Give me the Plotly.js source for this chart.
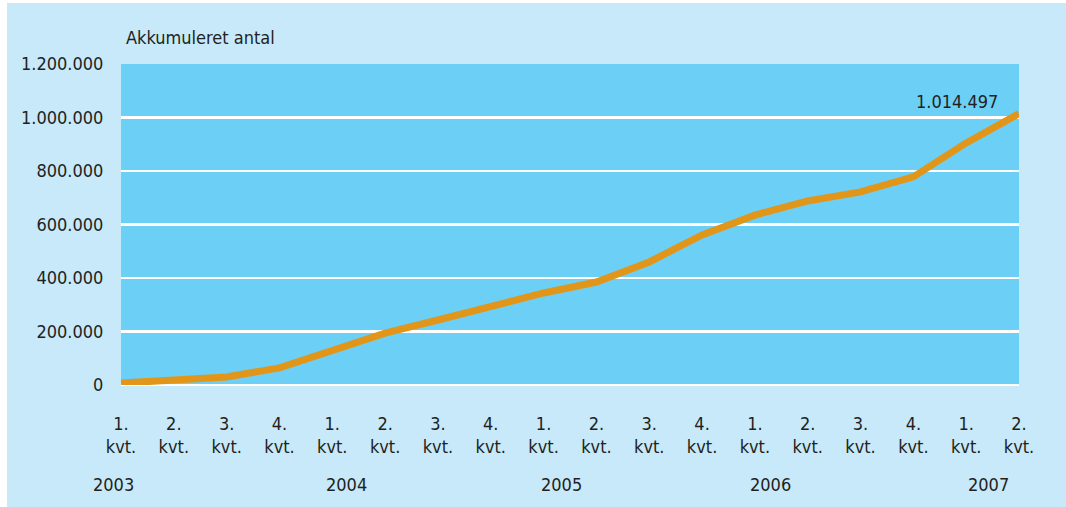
<!DOCTYPE html>
<html>
<head>
<meta charset="utf-8">
<script src="https://cdn.plot.ly/plotly-3.0.1.min.js"></script>
<style>
html,body{margin:0;padding:0;background:#ffffff;}
#chart{width:1066px;height:507px;}
</style>
</head>
<body>
<div id="chart"></div>
<script>
// Data
var quarterLabels = ["1.","2.","3.","4.","1.","2.","3.","4.","1.","2.","3.","4.","1.","2.","3.","4.","1.","2."];
var yearLabels = ["2003","2004","2005","2006","2007"];
var yearPositions = [0, 4.27, 8.33, 12.29, 16.42];
var accumulated = [7000, 19000, 30000, 64000, 131000, 194000, 243000, 292000, 344000, 385000, 460000, 561000, 635000, 688000, 722000, 778000, 905000, 1014497];
var lastLabel = "1.014.497";
var yTitle = "Akkumuleret antal";

var FONT = "'DejaVu Sans Condensed', 'Liberation Sans Narrow', 'Arial Narrow', sans-serif";
var TXT = "#231f20";

var xIdx = quarterLabels.map(function(_, i){ return i; });
var tickText = quarterLabels.map(function(q){ return q + "<br>kvt."; });

var trace = {
  x: xIdx,
  y: accumulated,
  type: "scatter",
  mode: "lines",
  line: {color: "#e1961a", width: 7},
  hoverinfo: "skip",
  showlegend: false
};

var annotations = [];
yearLabels.forEach(function(y, i){
  annotations.push({
    text: y, xref: "x", x: yearPositions[i], yref: "paper", y: -0.31,
    xanchor: "center", yanchor: "middle", showarrow: false,
    xshift: i === 0 ? -8 : 0,
    font: {family: FONT, size: 18, color: TXT}
  });
});
annotations.push({
  text: yTitle, xref: "paper", x: 0.003, yref: "paper", y: 1.081,
  xanchor: "left", yanchor: "middle", showarrow: false,
  font: {family: FONT, size: 18, color: TXT}
});
annotations.push({
  text: lastLabel, xref: "x", x: xIdx[xIdx.length-1], yref: "y", y: accumulated[accumulated.length-1],
  xanchor: "right", yanchor: "middle", xshift: -19, yshift: 12, showarrow: false,
  font: {family: FONT, size: 18, color: TXT}
});

var layout = {
  width: 1066, height: 507,
  margin: {l: 121, r: 47, t: 64, b: 122, pad: 0},
  paper_bgcolor: "#c7e9f9",
  plot_bgcolor: "#6ccff6",
  separators: ",.",
  font: {family: FONT, size: 18, color: TXT},
  xaxis: {
    range: [0, 17],
    tickmode: "array",
    tickvals: xIdx,
    ticktext: tickText,
    showgrid: false,
    zeroline: false,
    showline: false,
    ticks: "outside", ticklen: 22, tickcolor: "rgba(0,0,0,0)",
    tickfont: {family: FONT, size: 18, color: TXT},
    fixedrange: true
  },
  yaxis: {
    range: [0, 1200000],
    tickvals: [0, 200000, 400000, 600000, 800000, 1000000, 1200000],
    tickformat: ",d",
    showgrid: true, gridcolor: "#ffffff", gridwidth: 2.5,
    zeroline: true, zerolinecolor: "#ffffff", zerolinewidth: 2.5,
    showline: false,
    ticks: "outside", ticklen: 13, tickcolor: "rgba(0,0,0,0)",
    tickfont: {family: FONT, size: 18, color: TXT},
    fixedrange: true
  },
  shapes: [
    {type: "rect", xref: "paper", yref: "paper", x0: -0.2, x1: (7-121)/898, y0: -0.5, y1: 1.3,
     fillcolor: "#ffffff", line: {width: 0}, layer: "above"},
    {type: "rect", xref: "paper", yref: "paper", x0: -0.2, x1: 1.1, y0: (385-3)/321, y1: 1.3,
     fillcolor: "#ffffff", line: {width: 0}, layer: "above"}
  ],
  annotations: annotations
};

Plotly.newPlot("chart", [trace], layout, {displayModeBar: false, staticPlot: true});
</script>
</body>
</html>
